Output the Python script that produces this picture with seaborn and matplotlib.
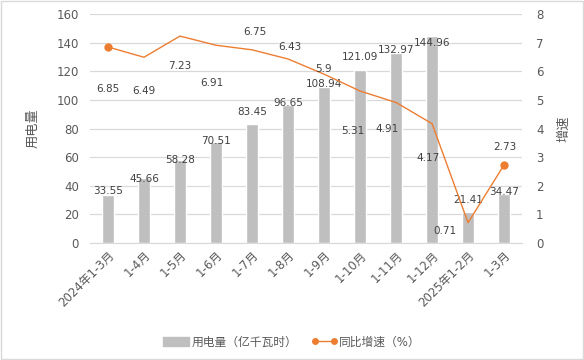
import numpy as np
import pandas as pd
import seaborn as sns
import matplotlib.pyplot as plt
from matplotlib.lines import Line2D
from matplotlib.patches import Patch

# 数据
months = ['2024年1-3月', '1-4月', '1-5月', '1-6月', '1-7月', '1-8月', '1-9月',
          '1-10月', '1-11月', '1-12月', '2025年1-2月', '1-3月']
power = [33.55, 45.66, 58.28, 70.51, 83.45, 96.65, 108.94, 121.09, 132.97, 144.96, 21.41, 34.47]
growth = [6.85, 6.49, 7.23, 6.91, 6.75, 6.43, 5.9, 5.31, 4.91, 4.17, 0.71, 2.73]

# 数据标签偏移(像素)，模仿Excel的自动摆放
bar_dy = [4, -1, 0, 1, 12, 2, 3, 13, 3, -7, 12, 2]
line_off = [(0, -42), (0, -34), (0, -30), (-4, -38), (3, 18), (2, 12), (-1, 5),
            (-7, -40), (-9, -27), (-4, -34), (-23, -8), (1, 18)]

df = pd.DataFrame({'月份': months, '用电量': power, '增速': growth})

sns.set_style('white')
plt.rcParams['font.family'] = ['DejaVu Sans', 'Noto Sans CJK SC']

fig = plt.figure(figsize=(5.84, 3.6), dpi=100)
ax = fig.add_axes([0.154, 0.325, 0.74, 0.636])
grey_txt = '#595959'

sns.barplot(data=df, x='月份', y='用电量', color='#BFBFBF', width=0.33,
            saturation=1, ax=ax, zorder=2)
ax.set_ylim(0, 160)
ax.set_yticks(range(0, 161, 20))
ax.set_xlim(-0.5, len(months) - 0.5)
ax.grid(axis='y', color='#D9D9D9', linewidth=0.9, zorder=0)
ax.set_axisbelow(True)
for s in ['top', 'right', 'left']:
    ax.spines[s].set_visible(False)
ax.spines['bottom'].set_color('#D9D9D9')
ax.tick_params(axis='y', length=0, pad=8, labelsize=8.5, labelcolor=grey_txt)
ax.tick_params(axis='x', length=0, pad=4, labelsize=8.5, labelcolor=grey_txt)
ax.set_xticks(range(len(months)))
ax.set_xticklabels(months, rotation=45, ha='right', rotation_mode='anchor')
ax.set_xlabel('')
ax.set_ylabel('用电量', fontsize=9.5, color=grey_txt, labelpad=12)

for i, v in enumerate(power):
    ax.annotate(f'{v:.2f}', (i, v), xytext=(0, bar_dy[i]), textcoords='offset pixels',
                ha='center', va='center', fontsize=7.5, color='#404040', zorder=5)

ax2 = ax.twinx()
sns.lineplot(x=np.arange(len(months)), y=growth, color='#ED7D31', linewidth=1,
             marker='o', markersize=6, markevery=[0, len(months) - 1],
             markeredgewidth=0, ax=ax2, zorder=4)
ax2.set_ylim(0, 8)
ax2.set_yticks(range(0, 9))
for s in ax2.spines.values():
    s.set_visible(False)
ax2.tick_params(axis='y', length=0, pad=10, labelsize=8.5, labelcolor=grey_txt)
ax2.set_ylabel('增速', fontsize=9.5, color=grey_txt, rotation=90, labelpad=10)
ax2.set_xlim(-0.5, len(months) - 0.5)

for i, v in enumerate(growth):
    dx, dy = line_off[i]
    ax2.annotate(f'{v:g}', (i, v), xytext=(dx, dy), textcoords='offset pixels',
                 ha='center', va='center', fontsize=7.5, color='#404040', zorder=5)

handles = [Patch(color='#BFBFBF'),
           Line2D([0], [0], color='#ED7D31', linewidth=1, marker='o', markersize=5,
                  markeredgewidth=0)]
fig.legend(handles, ['用电量（亿千瓦时）', '同比增速（%）'], loc='center',
           bbox_to_anchor=(0.5, 0.05), ncol=2, frameon=False, fontsize=8.5,
           labelcolor=grey_txt, handlelength=2.2, handletextpad=0.2, columnspacing=1.2,
           numpoints=2)

fig.add_artist(plt.Rectangle((0.001, 0.002), 0.997, 0.995, transform=fig.transFigure,
                             fill=False, edgecolor='#D9D9D9', linewidth=1))

plt.savefig('out.png', dpi=100)
